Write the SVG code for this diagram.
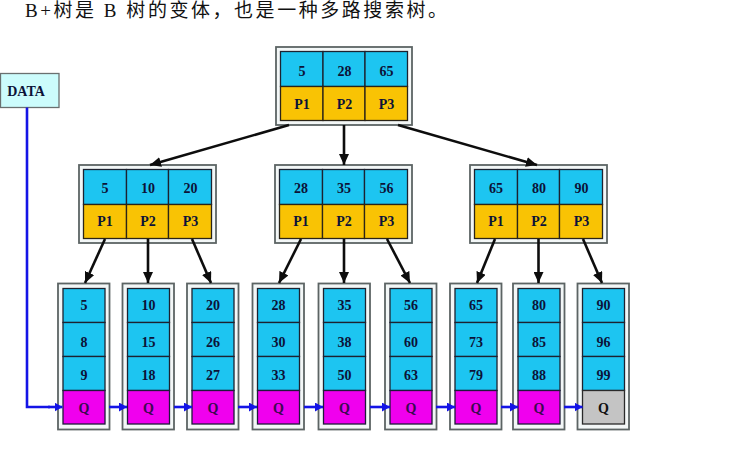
<svg xmlns="http://www.w3.org/2000/svg" width="750" height="461" viewBox="0 0 750 461">
<defs>
<style>
.frame{fill:#f3f7f7;stroke:#5c6464;stroke-width:1.8}
.blue{fill:#1dc5f1;stroke:#1d2230;stroke-width:1.3}
.yel{fill:#f9c304;stroke:#2a2418;stroke-width:1.3}
.mag{fill:#f000ee;stroke:#1d1a3a;stroke-width:1.3}
.gry{fill:#c4c4c4;stroke:#2a2a2a;stroke-width:1.3}
.t{font-family:"Liberation Serif","Times New Roman",serif;font-weight:bold;font-size:14px;fill:#0c1238;text-anchor:middle}
.q{fill:#3a0a50}
.arr{stroke:#0d0d0d;stroke-width:2.6;fill:none;marker-end:url(#ah)}
.link{stroke:#1414e6;stroke-width:2.6;fill:none}
.linka{stroke:#1414e6;stroke-width:2.6;fill:none;marker-end:url(#bh)}
</style>
<marker id="ah" markerUnits="userSpaceOnUse" markerWidth="12" markerHeight="10" refX="11" refY="5" orient="auto">
<path d="M0,0 L11,5 L0,10 Z" fill="#0d0d0d"/>
</marker>
<marker id="bh" markerUnits="userSpaceOnUse" markerWidth="9" markerHeight="9" refX="8" refY="4.5" orient="auto">
<path d="M0,0 L8,4.5 L0,9 Z" fill="#1414e6"/>
</marker>
</defs>
<rect width="750" height="461" fill="#ffffff"/>
<text x="25" y="17" font-family="'Liberation Serif','Noto Sans CJK SC',serif" font-size="19" fill="#111" textLength="422" lengthAdjust="spacing">B+树是 B 树的变体，也是一种多路搜索树。</text>

<g id="data">
<rect x="0.5" y="73.5" width="58.5" height="34" fill="#ccfcfc" stroke="#6a7070" stroke-width="1.3"/>
<text class="t" x="26" y="95.5" font-size="12.5">DATA</text>
</g>

<g id="root" transform="translate(276,-118)">
<rect class="frame" x="0" y="165" width="136" height="78"/>
<rect class="blue" x="4.5" y="169.5" width="42.5" height="35"/>
<rect class="blue" x="47" y="169.5" width="42" height="35"/>
<rect class="blue" x="89" y="169.5" width="42.5" height="35"/>
<rect class="yel" x="4.5" y="204.5" width="42.5" height="34"/>
<rect class="yel" x="47" y="204.5" width="42" height="34"/>
<rect class="yel" x="89" y="204.5" width="42.5" height="34"/>
<text class="t" x="26" y="194">5</text><text class="t" x="68.5" y="194">28</text><text class="t" x="110.5" y="194">65</text>
<text class="t" x="26" y="227">P1</text><text class="t" x="68.5" y="227">P2</text><text class="t" x="110.5" y="227">P3</text>
</g>

<g id="mid1" transform="translate(79,0)">
<rect class="frame" x="0" y="165" width="137" height="78"/>
<rect class="blue" x="4.5" y="169.5" width="43" height="35"/>
<rect class="blue" x="47.5" y="169.5" width="42" height="35"/>
<rect class="blue" x="89.5" y="169.5" width="43" height="35"/>
<rect class="yel" x="4.5" y="204.5" width="43" height="34"/>
<rect class="yel" x="47.5" y="204.5" width="42" height="34"/>
<rect class="yel" x="89.5" y="204.5" width="43" height="34"/>
<text class="t" x="26" y="193">5</text><text class="t" x="69" y="193">10</text><text class="t" x="111.5" y="193">20</text>
<text class="t" x="26" y="226">P1</text><text class="t" x="69" y="226">P2</text><text class="t" x="111.5" y="226">P3</text>
</g>

<g id="mid2" transform="translate(275,0)">
<rect class="frame" x="0" y="165" width="137" height="78"/>
<rect class="blue" x="4.5" y="169.5" width="43" height="35"/>
<rect class="blue" x="47.5" y="169.5" width="42" height="35"/>
<rect class="blue" x="89.5" y="169.5" width="43" height="35"/>
<rect class="yel" x="4.5" y="204.5" width="43" height="34"/>
<rect class="yel" x="47.5" y="204.5" width="42" height="34"/>
<rect class="yel" x="89.5" y="204.5" width="43" height="34"/>
<text class="t" x="26" y="193">28</text><text class="t" x="69" y="193">35</text><text class="t" x="111.5" y="193">56</text>
<text class="t" x="26" y="226">P1</text><text class="t" x="69" y="226">P2</text><text class="t" x="111.5" y="226">P3</text>
</g>

<g id="mid3" transform="translate(470,0)">
<rect class="frame" x="0" y="165" width="137" height="78"/>
<rect class="blue" x="4.5" y="169.5" width="43" height="35"/>
<rect class="blue" x="47.5" y="169.5" width="42" height="35"/>
<rect class="blue" x="89.5" y="169.5" width="43" height="35"/>
<rect class="yel" x="4.5" y="204.5" width="43" height="34"/>
<rect class="yel" x="47.5" y="204.5" width="42" height="34"/>
<rect class="yel" x="89.5" y="204.5" width="43" height="34"/>
<text class="t" x="26" y="193">65</text><text class="t" x="69" y="193">80</text><text class="t" x="111.5" y="193">90</text>
<text class="t" x="26" y="226">P1</text><text class="t" x="69" y="226">P2</text><text class="t" x="111.5" y="226">P3</text>
</g>

<g id="leaf1" transform="translate(58,0)">
<rect class="frame" x="0" y="283.5" width="51.5" height="146"/>
<rect class="blue" x="5" y="288.5" width="42" height="34"/><rect class="blue" x="5" y="322.5" width="42" height="34"/><rect class="blue" x="5" y="356.5" width="42" height="34"/><rect class="mag" x="5" y="390.5" width="42" height="33.5"/>
<text class="t" x="26" y="310">5</text><text class="t" x="26" y="346.5">8</text><text class="t" x="26" y="380">9</text><text class="t q" x="26" y="413">Q</text>
</g>
<g id="leaf2" transform="translate(122.5,0)">
<rect class="frame" x="0" y="283.5" width="51.5" height="146"/>
<rect class="blue" x="5" y="288.5" width="42" height="34"/><rect class="blue" x="5" y="322.5" width="42" height="34"/><rect class="blue" x="5" y="356.5" width="42" height="34"/><rect class="mag" x="5" y="390.5" width="42" height="33.5"/>
<text class="t" x="26" y="310">10</text><text class="t" x="26" y="346.5">15</text><text class="t" x="26" y="380">18</text><text class="t q" x="26" y="413">Q</text>
</g>
<g id="leaf3" transform="translate(187,0)">
<rect class="frame" x="0" y="283.5" width="51.5" height="146"/>
<rect class="blue" x="5" y="288.5" width="42" height="34"/><rect class="blue" x="5" y="322.5" width="42" height="34"/><rect class="blue" x="5" y="356.5" width="42" height="34"/><rect class="mag" x="5" y="390.5" width="42" height="33.5"/>
<text class="t" x="26" y="310">20</text><text class="t" x="26" y="346.5">26</text><text class="t" x="26" y="380">27</text><text class="t q" x="26" y="413">Q</text>
</g>
<g id="leaf4" transform="translate(252.5,0)">
<rect class="frame" x="0" y="283.5" width="51.5" height="146"/>
<rect class="blue" x="5" y="288.5" width="42" height="34"/><rect class="blue" x="5" y="322.5" width="42" height="34"/><rect class="blue" x="5" y="356.5" width="42" height="34"/><rect class="mag" x="5" y="390.5" width="42" height="33.5"/>
<text class="t" x="26" y="310">28</text><text class="t" x="26" y="346.5">30</text><text class="t" x="26" y="380">33</text><text class="t q" x="26" y="413">Q</text>
</g>
<g id="leaf5" transform="translate(318.5,0)">
<rect class="frame" x="0" y="283.5" width="51.5" height="146"/>
<rect class="blue" x="5" y="288.5" width="42" height="34"/><rect class="blue" x="5" y="322.5" width="42" height="34"/><rect class="blue" x="5" y="356.5" width="42" height="34"/><rect class="mag" x="5" y="390.5" width="42" height="33.5"/>
<text class="t" x="26" y="310">35</text><text class="t" x="26" y="346.5">38</text><text class="t" x="26" y="380">50</text><text class="t q" x="26" y="413">Q</text>
</g>
<g id="leaf6" transform="translate(385,0)">
<rect class="frame" x="0" y="283.5" width="51.5" height="146"/>
<rect class="blue" x="5" y="288.5" width="42" height="34"/><rect class="blue" x="5" y="322.5" width="42" height="34"/><rect class="blue" x="5" y="356.5" width="42" height="34"/><rect class="mag" x="5" y="390.5" width="42" height="33.5"/>
<text class="t" x="26" y="310">56</text><text class="t" x="26" y="346.5">60</text><text class="t" x="26" y="380">63</text><text class="t q" x="26" y="413">Q</text>
</g>
<g id="leaf7" transform="translate(450,0)">
<rect class="frame" x="0" y="283.5" width="51.5" height="146"/>
<rect class="blue" x="5" y="288.5" width="42" height="34"/><rect class="blue" x="5" y="322.5" width="42" height="34"/><rect class="blue" x="5" y="356.5" width="42" height="34"/><rect class="mag" x="5" y="390.5" width="42" height="33.5"/>
<text class="t" x="26" y="310">65</text><text class="t" x="26" y="346.5">73</text><text class="t" x="26" y="380">79</text><text class="t q" x="26" y="413">Q</text>
</g>
<g id="leaf8" transform="translate(513,0)">
<rect class="frame" x="0" y="283.5" width="51.5" height="146"/>
<rect class="blue" x="5" y="288.5" width="42" height="34"/><rect class="blue" x="5" y="322.5" width="42" height="34"/><rect class="blue" x="5" y="356.5" width="42" height="34"/><rect class="mag" x="5" y="390.5" width="42" height="33.5"/>
<text class="t" x="26" y="310">80</text><text class="t" x="26" y="346.5">85</text><text class="t" x="26" y="380">88</text><text class="t q" x="26" y="413">Q</text>
</g>
<g id="leaf9" transform="translate(577.5,0)">
<rect class="frame" x="0" y="283.5" width="51.5" height="146"/>
<rect class="blue" x="5" y="288.5" width="42" height="34"/><rect class="blue" x="5" y="322.5" width="42" height="34"/><rect class="blue" x="5" y="356.5" width="42" height="34"/><rect class="gry" x="5" y="390.5" width="42" height="33.5"/>
<text class="t" x="26" y="310">90</text><text class="t" x="26" y="346.5">96</text><text class="t" x="26" y="380">99</text><text class="t" x="26" y="413" style="fill:#111">Q</text>
</g>

<g id="connectors">
<line class="arr" x1="289" y1="125" x2="150" y2="165"/>
<line class="arr" x1="344" y1="125" x2="344" y2="165"/>
<line class="arr" x1="398" y1="125" x2="537" y2="165"/>
<line class="arr" x1="105" y1="239" x2="85" y2="283"/>
<line class="arr" x1="148" y1="239" x2="148" y2="283"/>
<line class="arr" x1="192" y1="239" x2="211" y2="283"/>
<line class="arr" x1="301" y1="239" x2="279" y2="283"/>
<line class="arr" x1="344" y1="239" x2="344" y2="283"/>
<line class="arr" x1="387" y1="239" x2="410" y2="283"/>
<line class="arr" x1="495" y1="239" x2="477" y2="283"/>
<line class="arr" x1="538.5" y1="239" x2="538.5" y2="283"/>
<line class="arr" x1="583" y1="239" x2="602" y2="283"/>
<polyline class="link" points="27,107.5 27,407 50,407"/>
<line class="linka" x1="48" y1="407" x2="62.5" y2="407"/>
<line class="linka" x1="109" y1="407" x2="127" y2="407"/>
<line class="linka" x1="174" y1="407" x2="192" y2="407"/>
<line class="linka" x1="238" y1="407" x2="257" y2="407"/>
<line class="linka" x1="304" y1="407" x2="323" y2="407"/>
<line class="linka" x1="370" y1="407" x2="390" y2="407"/>
<line class="linka" x1="436" y1="407" x2="455" y2="407"/>
<line class="linka" x1="501" y1="407" x2="518" y2="407"/>
<line class="linka" x1="564" y1="407" x2="582.5" y2="407"/>
</g>
</svg>
